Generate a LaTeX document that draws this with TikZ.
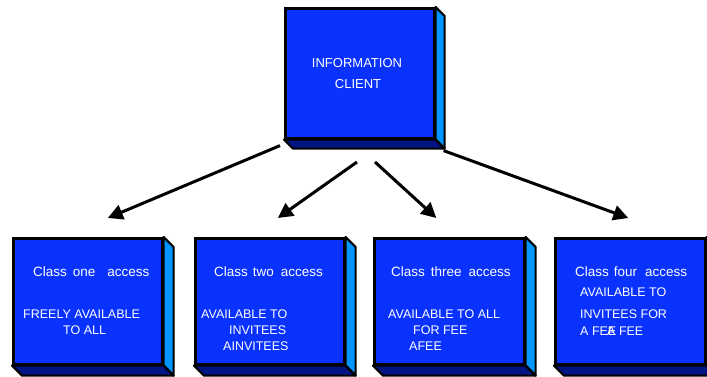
\documentclass[tikz,border=0pt]{standalone}
\usepackage{fontspec}
\setmainfont{Liberation Sans}
\usetikzlibrary{arrows.meta}
\definecolor{frontblue}{RGB}{10,50,255}
\definecolor{sideblue}{RGB}{0,150,255}
\definecolor{bottomblue}{RGB}{0,20,130}
\tikzset{
 face/.style={draw=black, line width=2.6pt, fill=frontblue, inner sep=0pt, anchor=north west},
 sideface/.style={draw=black, line width=2.2pt, fill=sideblue, line join=round},
 botface/.style={draw=black, line width=2.2pt, fill=bottomblue, line join=round},
 lbl/.style={text=white, font=\fontsize{12.5}{14}\selectfont, inner sep=0pt, anchor=west},
 clsl/.style={lbl, font=\fontsize{13.5}{15}\selectfont},
 link/.style={line width=3pt, -{Triangle[length=15pt,width=15pt]}},
}
\newcommand{\slabbox}[6]{%
 \node[face, minimum width=#4pt, minimum height=#5pt] (#1) at (#2,#3) {};
 \draw[sideface] (#1.north east) -- ++(#6,#6) -- ([shift={(#6,#6)}]#1.south east) -- (#1.south east) -- cycle;
 \draw[botface] (#1.south west) -- (#1.south east) -- ([shift={(#6,#6)}]#1.south east) -- ([shift={(#6,#6)}]#1.south west) -- cycle;
}
\begin{document}
\begin{tikzpicture}[x=1pt,y=-1pt]
\useasboundingbox (0,0) rectangle (707,376);
\fill[white] (0,0) rectangle (707,376);
% boxes
\slabbox{client}{284}{7}{149}{130}{9}
\slabbox{b1}{12}{237}{149}{126}{10}
\slabbox{b2}{194}{237}{149}{126}{10}
\slabbox{b3}{373}{237}{150}{126}{10}
\slabbox{b4}{554}{237}{150}{126}{10}
% texts
\node[lbl, anchor=center, font=\fontsize{13}{15}\selectfont] (t1) at (357,63) {INFORMATION};
\node[lbl, anchor=center, font=\fontsize{13}{15}\selectfont] (t2) at (358,84) {CLIENT};
\node[clsl] (c1) at (33,272) {Class\hspace{6pt}one\hspace{12pt}access};
\node[lbl] (c1a) at (23,314) {FREELY AVAILABLE};
\node[lbl] (c1b) at (63,330) {TO ALL};
\node[clsl] (c2) at (214,272) {Class\hspace{5pt}two\hspace{7pt}access};
\node[lbl] (c2a) at (201,314) {AVAILABLE TO};
\node[lbl] (c2b) at (229,330) {INVITEES};
\node[lbl] (c2c) at (223,346) {AINVITEES};
\node[clsl] (c3) at (391,272) {Class\hspace{6pt}three\hspace{7pt}access};
\node[lbl] (c3a) at (388,314) {AVAILABLE TO ALL};
\node[lbl] (c3b) at (413,330) {FOR FEE};
\node[lbl] (c3c) at (409,346) {AFEE};
\node[clsl] (c4) at (575,272) {Class\hspace{5pt}four\hspace{8pt}access};
\node[lbl] (c4a) at (580,292) {AVAILABLE TO};
\node[lbl] (c4b) at (580,314) {INVITEES FOR};
\node[lbl] (c4c) at (580,331) {A FEE};
\node[lbl] (c4d) at (607,331) {A FEE};
% arrow ends
\coordinate (s1) at ([shift={(-4,6)}]client.south west);
\coordinate (s2) at (357,162);
\coordinate (s3) at (375,162);
\coordinate (s4) at ([shift={(8,11)}]client.south east);
\coordinate (e1) at ([shift={(20,-19)}]b1.north);
\coordinate (e2) at ([shift={(8,-19)}]b2.north);
\coordinate (e3) at ([shift={(-13,-19)}]b3.north);
\coordinate (e4) at ([shift={(-2,-19)}]b4.north);
\draw[link] (s1) -- (e1);
\draw[link] (s2) -- (e2);
\draw[link] (s3) -- (e3);
\draw[link] (s4) -- (e4);
\end{tikzpicture}
\end{document}
